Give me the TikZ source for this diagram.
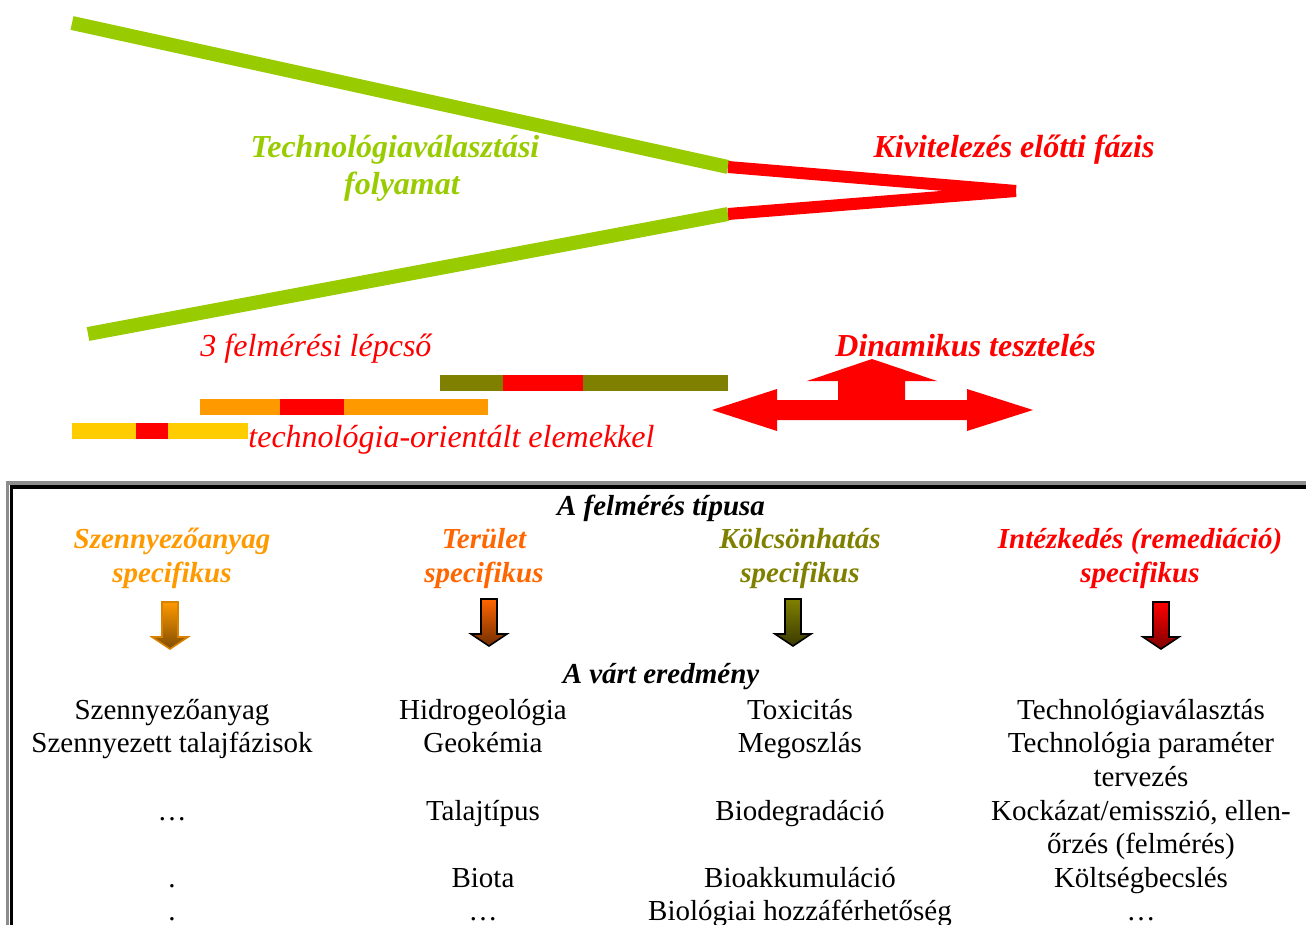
\documentclass[tikz,border=0pt]{standalone}
\usepackage{fontspec}
\setmainfont{Liberation Serif}
\definecolor{lime}{HTML}{99CC00}
\definecolor{rred}{HTML}{FF0000}
\definecolor{olv}{HTML}{808000}
\definecolor{orng}{HTML}{FF9900}
\definecolor{ylw}{HTML}{FFCC00}
\definecolor{rorange}{HTML}{FF6600}
\definecolor{frame}{HTML}{8C8C8C}
\tikzset{
  x=0.5pt, y=-0.5pt,
  lbl/.style={inner sep=0pt, font=\fontsize{16}{19}\selectfont\bfseries\itshape},
  lblit/.style={inner sep=0pt, font=\fontsize{16}{19}\selectfont\itshape},
  head/.style={inner sep=0pt, anchor=base, font=\fontsize{14.5}{17}\selectfont\bfseries\itshape},
  body/.style={inner sep=0pt, anchor=base, font=\fontsize{14.5}{17}\selectfont},
  greenline/.style={draw=lime, line width=7pt},
  redline/.style={draw=rred, line width=6pt},
  seg/.style={line width=8pt},
  pics/downarr/.style n args={3}{code={
    \shadedraw[top color=#1, bottom color=#2, draw=#3, line width=0.8pt]
      (-8,0) -- (8,0) -- (8,35) -- (18,35) -- (0,47) -- (-18,35) -- (-8,35) -- cycle;
  }}
}
\begin{document}
\begin{tikzpicture}
\useasboundingbox (0,0) rectangle (1306,925);

% converging process lines
\coordinate (g1) at (72,23);
\coordinate (g2) at (88,334);
\coordinate (j1) at (728,167);
\coordinate (j2) at (728,214);
\coordinate (tip) at (1016,191);
\draw[greenline] (g1) -- (j1);
\draw[greenline] (g2) -- (j2);
\draw[redline] (j1) -- (tip);
\draw[redline] (j2) -- (tip);

\node[lbl, text=lime, anchor=base] (tech1) at (395,158) {Technológiaválasztási};
\node[lbl, text=lime, anchor=base] (tech2) at (402,195) {folyamat};
\node[lbl, text=rred, anchor=base] (kiv) at (1014,158) {Kivitelezés előtti fázis};

\node[lblit, text=rred, anchor=base west] (lepcso) at (200,357) {3 felmérési lépcső};
\node[lbl, text=rred, anchor=base west] (dinam) at (835,357) {Dinamikus tesztelés};
\node[lblit, text=rred, anchor=base west] (orient) at (248,447) {technológia-orientált elemekkel};

% three survey steps
\draw[seg, olv] (440,383) -- (728,383);
\draw[seg, rred] (503,383) -- (583,383);
\draw[seg, orng] (200,407) -- (488,407);
\draw[seg, rred] (280,407) -- (344,407);
\draw[seg, ylw] (72,431) -- (248,431);
\draw[seg, rred] (136,431) -- (168,431);

% dynamic testing arrow
\fill[rred] (712,410) -- (777,389) -- (777,400) -- (838,400) -- (838,381) -- (807,381)
  -- (872,359) -- (937,381) -- (905,381) -- (905,400) -- (967,400) -- (967,389)
  -- (1033,410) -- (967,431) -- (967,420) -- (777,420) -- (777,431) -- cycle;

% table frame
\draw[frame, line width=1.6pt] (7.5,925) -- (7.5,483) -- (1306,483);
\draw[black, line width=1.8pt] (11.5,925) -- (11.5,487) -- (1306,487);

\node[head] (tipus) at (661,515) {A felmérés típusa};
\node[head, text=orng] (h1a) at (172,548) {Szennyezőanyag};
\node[head, text=orng] (h1b) at (172,582) {specifikus};
\node[head, text=rorange] (h2a) at (484,548) {Terület};
\node[head, text=rorange] (h2b) at (484,582) {specifikus};
\node[head, text=olv] (h3a) at (800,548) {Kölcsönhatás};
\node[head, text=olv] (h3b) at (800,582) {specifikus};
\node[head, text=rred] (h4a) at (1140,548) {Intézkedés (remediáció)};
\node[head, text=rred] (h4b) at (1140,582) {specifikus};

\pic at (170,602) {downarr={orng}{orng!50!black}{orng!85!black}};
\pic at (489,599) {downarr={rorange}{rorange!45!black}{black}};
\pic at (793,599) {downarr={olv}{olv!45!black}{black}};
\pic at (1161,602) {downarr={rred}{rred!50!black}{black}};

\node[head] (vart) at (661,683) {A várt eredmény};

% column 1
\node[body] (c1r1) at (172,719) {Szennyezőanyag};
\node[body] (c1r2) at (172,752) {Szennyezett talajfázisok};
\node[body] (c1r4) at (172,820) {…};
\node[body] (c1r6) at (172,887) {.};
\node[body] (c1r7) at (172,920) {.};
% column 2
\node[body] (c2r1) at (483,719) {Hidrogeológia};
\node[body] (c2r2) at (483,752) {Geokémia};
\node[body] (c2r4) at (483,820) {Talajtípus};
\node[body] (c2r6) at (483,887) {Biota};
\node[body] (c2r7) at (483,920) {…};
% column 3
\node[body] (c3r1) at (800,719) {Toxicitás};
\node[body] (c3r2) at (800,752) {Megoszlás};
\node[body] (c3r4) at (800,820) {Biodegradáció};
\node[body] (c3r6) at (800,887) {Bioakkumuláció};
\node[body] (c3r7) at (800,920) {Biológiai hozzáférhetőség};
% column 4
\node[body] (c4r1) at (1141,719) {Technológiaválasztás};
\node[body] (c4r2) at (1141,752) {Technológia paraméter};
\node[body] (c4r3) at (1141,786) {tervezés};
\node[body] (c4r4) at (1141,820) {Kockázat/emisszió, ellen-};
\node[body] (c4r5) at (1141,853) {őrzés (felmérés)};
\node[body] (c4r6) at (1141,887) {Költségbecslés};
\node[body] (c4r7) at (1141,920) {…};
\end{tikzpicture}
\end{document}
